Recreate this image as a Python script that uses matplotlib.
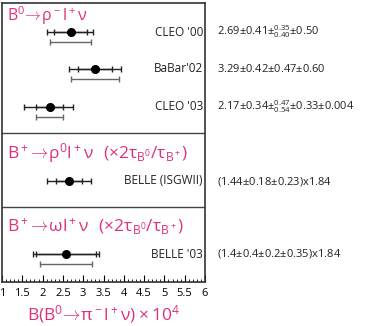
import numpy as np
import matplotlib
matplotlib.use("Agg")
import matplotlib.pyplot as plt
from matplotlib.ticker import MultipleLocator

plt.rcParams['font.family'] = ['Open Sans', 'DejaVu Sans']
plt.rcParams['mathtext.fontset'] = 'custom'
plt.rcParams['mathtext.rm'] = 'Open Sans'
plt.rcParams['mathtext.it'] = 'Open Sans'
plt.rcParams['mathtext.bf'] = 'Open Sans'

PINK = '#e0307c'

# measurements (raw values as quoted, scale factor applied for B+ modes)
labels = ["CLEO '00", "BaBar'02", "CLEO '03", "BELLE (ISGWII)", "BELLE '03"]
central = [2.69, 3.29, 2.17, 1.44, 1.4]
stat = [0.41, 0.42, 0.34, 0.18, 0.4]
syst_hi = [0.35, 0.47, 0.47, 0.23, 0.2]
syst_lo = [0.40, 0.47, 0.54, 0.23, 0.2]
model = [0.50, 0.60, 0.33, 0.0, 0.35]
scale = [1, 1, 1, 1.84, 1.84]
value_text = [r"2.69$\pm$0.41$\pm^{0.35}_{0.40}$$\pm$0.50",
              r"3.29$\pm$0.42$\pm$0.47$\pm$0.60",
              r"2.17$\pm$0.34$\pm^{0.47}_{0.54}$$\pm$0.33$\pm$0.004",
              r"(1.44$\pm$0.18$\pm$0.23)x1.84",
              r"(1.4$\pm$0.4$\pm$0.2$\pm$0.35)x1.84"]
titles = [r"$\mathrm{B^0\!\rightarrow\!\rho^-l^+\nu}$",
          r"$\mathrm{B^+\!\rightarrow\!\rho^0l^+\nu\ \ (\times2\tau_{B^0}/\tau_{B^+})}$",
          r"$\mathrm{B^+\!\rightarrow\!\omega l^+\nu\ \ (\times2\tau_{B^0}/\tau_{B^+})}$"]
title_size = [11.5, 12.5, 12.5]

# layout (vertical rows in pixel-like units, top = 0)
row_y = [29, 66, 104, 178, 251]
model_dy = 10
sep_y = [130, 204]
title_y = [13, 150, 223]

fig = plt.figure(figsize=(3.74, 3.26), dpi=100)
ax = fig.add_axes([2/374, 44/326, 203/374, 279/326])
ax.set_xlim(1, 6)
ax.set_ylim(279, 0)

for i in range(len(labels)):
    c = central[i]*scale[i]
    s = stat[i]*scale[i]
    tlo = np.hypot(stat[i], syst_lo[i])*scale[i]
    thi = np.hypot(stat[i], syst_hi[i])*scale[i]
    y = row_y[i]
    ax.errorbar(c, y, xerr=[[tlo], [thi]], fmt='none', ecolor='#222222',
                elinewidth=1.0, capsize=2.4, capthick=1.0)
    ax.errorbar(c, y, xerr=[[s], [s]], fmt='o', color='black', ms=5.5,
                ecolor='#222222', elinewidth=1.0, capsize=2.4, capthick=1.0)
    if model[i] > 0:
        m = model[i]*scale[i]
        ax.errorbar(c, y + model_dy, xerr=[[m], [m]], fmt='none', ecolor='#666666',
                    elinewidth=1.0, capsize=2.4, capthick=1.0)
    ax.text(5.95, y, labels[i], ha='right', va='center', fontsize=8.5, color='#222222')
    ax.text(6.3, y, value_text[i], ha='left', va='center', fontsize=8,
            color='#222222', clip_on=False)

for yy in sep_y:
    ax.axhline(yy, color='#444444', lw=1.0)

for t, yy, fs in zip(titles, title_y, title_size):
    ax.text(1.12, yy, t, ha='left', va='center', fontsize=fs, color=PINK)

ax.set_yticks([])
ax.xaxis.set_major_locator(MultipleLocator(0.5))
ax.xaxis.set_minor_locator(MultipleLocator(0.1))
ax.tick_params(axis='x', which='major', direction='in', length=5, width=0.8, labelsize=8, pad=4)
ax.tick_params(axis='x', which='minor', direction='in', length=2.5, width=0.6)
ax.set_xticks(np.arange(1, 6.01, 0.5))
ax.set_xticklabels(['1', '1.5', '2', '2.5', '3', '3.5', '4', '4.5', '5', '5.5', '6'])
for sp in ax.spines.values():
    sp.set_linewidth(1.2)
    sp.set_color('#333333')

ax.set_xlabel(r"$\mathrm{B(B^0\!\rightarrow\!\pi^-l^+\nu)\times10^4}$", color=PINK, fontsize=12.5, labelpad=3)

fig.savefig("out.png", dpi=100)
